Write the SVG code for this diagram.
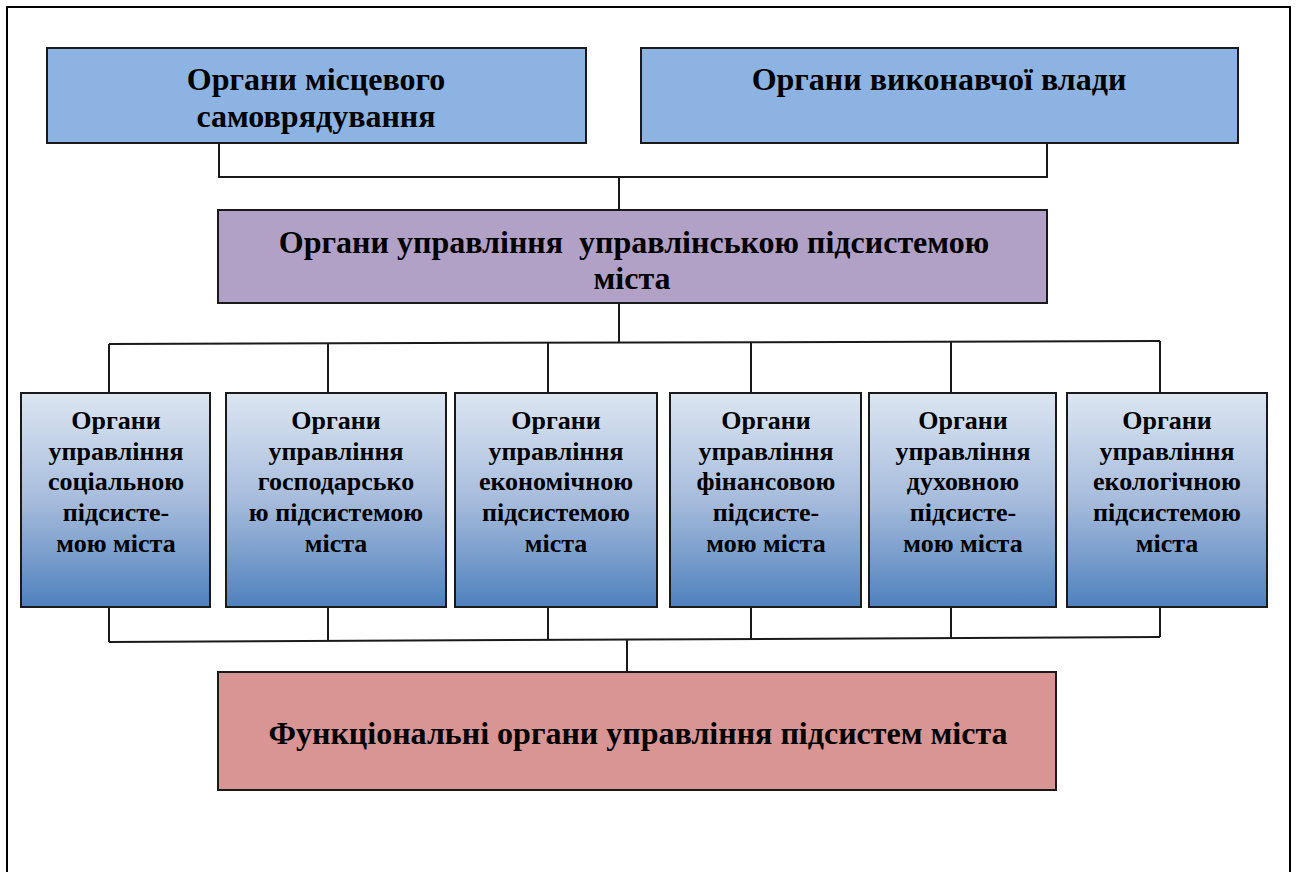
<svg xmlns="http://www.w3.org/2000/svg" width="1298" height="872" viewBox="0 0 1298 872">
<defs>
<linearGradient id="g" x1="0" y1="0" x2="0" y2="1">
<stop offset="0" stop-color="#dce6f2"/>
<stop offset="0.5" stop-color="#a7bcdc"/>
<stop offset="1" stop-color="#4f81bd"/>
</linearGradient>
</defs>
<style>
.t{font-family:'Liberation Serif','DejaVu Serif',serif;font-weight:700;fill:#000;text-anchor:middle}
.big{font-size:32px}
.sm{font-size:26px}
.box{stroke:#1a1a1a;stroke-width:2}
.ln{stroke:#1a1a1a;stroke-width:2;fill:none}
</style>
<rect width="1298" height="872" fill="#fff"/>
<path d="M7,872 V7 H1290 V872" fill="none" stroke="#000" stroke-width="2"/>
<g id="connectors">
<path class="ln" d="M219,143 V177 H1047 V143"/>
<path class="ln" d="M619,177 V210"/>
<path class="ln" d="M619,303 V343"/>
<path class="ln" d="M109,344 L1160,341"/>
<path class="ln" d="M109,344 V393 M328,343 V393 M548,343 V393 M751,342 V393 M951,342 V393 M1160,341 V393"/>
<path class="ln" d="M109,607 V642 M328,607 V641 M548,607 V640 M751,607 V639 M951,607 V638 M1160,607 V637"/>
<path class="ln" d="M109,642 L1160,637"/>
<path class="ln" d="M627,640 V672"/>
</g>
<g id="n-local">
<rect class="box" x="47" y="48" width="539" height="95" fill="#8db3e2"/>
<text class="t big" x="316" y="90">Органи місцевого</text>
<text class="t big" x="316" y="127">самоврядування</text>
</g>
<g id="n-exec">
<rect class="box" x="641" y="48" width="597" height="95" fill="#8db3e2"/>
<text class="t big" x="939" y="90">Органи виконавчої влади</text>
</g>
<g id="n-mgmt">
<rect class="box" x="218" y="210" width="829" height="93" fill="#b2a1c7"/>
<text class="t big" x="634" y="253" xml:space="preserve">Органи управління  управлінською підсистемою</text>
<text class="t big" x="632" y="289">міста</text>
</g>
<g id="n-social">
<rect class="box" x="21" y="393" width="189" height="214" fill="url(#g)"/>
<text class="t sm" x="116" y="429">Органи</text>
<text class="t sm" x="116" y="460">управління</text>
<text class="t sm" x="116" y="490">соціальною</text>
<text class="t sm" x="116" y="521">підсисте-</text>
<text class="t sm" x="116" y="552">мою міста</text>
</g>
<g id="n-econ-h">
<rect class="box" x="226" y="393" width="220" height="214" fill="url(#g)"/>
<text class="t sm" x="336" y="429">Органи</text>
<text class="t sm" x="336" y="460">управління</text>
<text class="t sm" x="336" y="490">господарсько</text>
<text class="t sm" x="336" y="521">ю підсистемою</text>
<text class="t sm" x="336" y="552">міста</text>
</g>
<g id="n-econ">
<rect class="box" x="455" y="393" width="202" height="214" fill="url(#g)"/>
<text class="t sm" x="556" y="429">Органи</text>
<text class="t sm" x="556" y="460">управління</text>
<text class="t sm" x="556" y="490">економічною</text>
<text class="t sm" x="556" y="521">підсистемою</text>
<text class="t sm" x="556" y="552">міста</text>
</g>
<g id="n-fin">
<rect class="box" x="670" y="393" width="191" height="214" fill="url(#g)"/>
<text class="t sm" x="766" y="429">Органи</text>
<text class="t sm" x="766" y="460">управління</text>
<text class="t sm" x="766" y="490">фінансовою</text>
<text class="t sm" x="766" y="521">підсисте-</text>
<text class="t sm" x="766" y="552">мою міста</text>
</g>
<g id="n-spirit">
<rect class="box" x="869" y="393" width="187" height="214" fill="url(#g)"/>
<text class="t sm" x="963" y="429">Органи</text>
<text class="t sm" x="963" y="460">управління</text>
<text class="t sm" x="963" y="490">духовною</text>
<text class="t sm" x="963" y="521">підсисте-</text>
<text class="t sm" x="963" y="552">мою міста</text>
</g>
<g id="n-eco">
<rect class="box" x="1067" y="393" width="200" height="214" fill="url(#g)"/>
<text class="t sm" x="1167" y="429">Органи</text>
<text class="t sm" x="1167" y="460">управління</text>
<text class="t sm" x="1167" y="490">екологічною</text>
<text class="t sm" x="1167" y="521">підсистемою</text>
<text class="t sm" x="1167" y="552">міста</text>
</g>
<g id="n-func">
<rect class="box" x="218" y="672" width="838" height="118" fill="#d99594"/>
<text class="t big" x="638" y="744">Функціональні органи управління підсистем міста</text>
</g>
</svg>
